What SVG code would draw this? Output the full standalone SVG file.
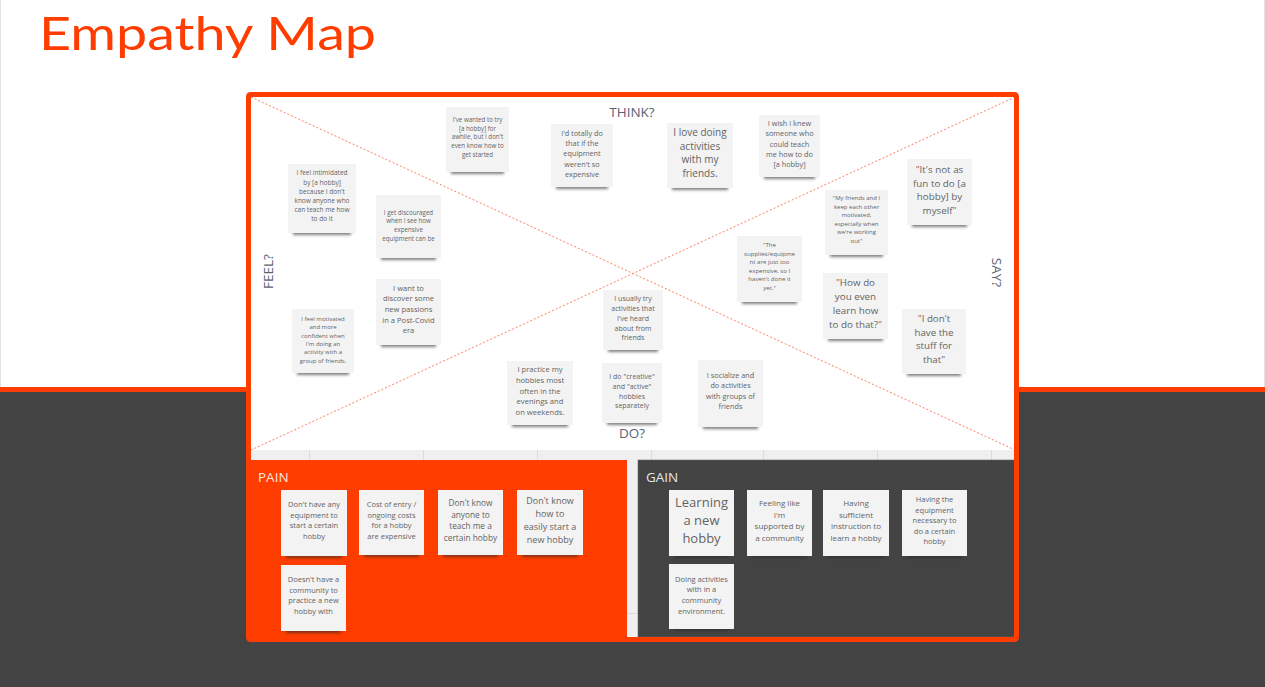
<svg xmlns="http://www.w3.org/2000/svg" width="1265" height="687" viewBox="0 0 1265 687">
<defs>
<filter id="blur" x="-30%" y="-200%" width="160%" height="500%"><feGaussianBlur stdDeviation="1.4"/></filter>
<clipPath id="inner"><rect x="251" y="97" width="764" height="353"/></clipPath>
<style>
.note{fill:#F3F3F4}
.sh{fill:#2a2a2a;opacity:.6;filter:url(#blur)}
.t{font-family:"Open Sans","Liberation Sans",sans-serif;fill:#636363;text-anchor:middle}
.lbl{font-family:"Open Sans","Liberation Sans",sans-serif;fill:#5A6276;font-size:13.5px;text-anchor:middle}
.sec{font-family:"Open Sans","Liberation Sans",sans-serif;font-size:13.5px}
.diag{stroke:#FF7E62;stroke-width:1;stroke-dasharray:2 2;fill:none}
</style>
</defs>

<!-- background -->
<rect x="0" y="0" width="1265" height="387" fill="#FFFFFF"/>
<line x1="0.5" y1="0" x2="0.5" y2="387" stroke="#E2E2E2"/>
<line x1="1264.5" y1="0" x2="1264.5" y2="387" stroke="#E2E2E2"/>
<rect x="0" y="387" width="1265" height="5" fill="#FF3D00"/>
<rect x="0" y="392" width="1265" height="295" fill="#434343"/>

<text x="39" y="50" font-family="Lato,'Open Sans',sans-serif" font-weight="400" font-size="46" fill="#FF3D00" textLength="337" lengthAdjust="spacingAndGlyphs">Empathy Map</text>

<!-- frame -->
<g id="frame">
<rect x="251" y="97" width="764" height="353" fill="#FFFFFF"/>
<rect x="251" y="450" width="764" height="10" fill="#EFEFEF"/>
<g stroke="#DCDCDC" stroke-width="1">
<line x1="309.5" y1="450" x2="309.5" y2="460"/>
<line x1="423.5" y1="450" x2="423.5" y2="460"/>
<line x1="537.5" y1="450" x2="537.5" y2="460"/>
<line x1="651.5" y1="450" x2="651.5" y2="460"/>
<line x1="763.5" y1="450" x2="763.5" y2="460"/>
<line x1="877.5" y1="450" x2="877.5" y2="460"/>
<line x1="991.5" y1="450" x2="991.5" y2="460"/>
</g>
<rect x="627" y="460" width="11" height="177" fill="#EFEFEF"/>
<line x1="627" y1="613.5" x2="638" y2="613.5" stroke="#DCDCDC"/>
</g>

<g id="connectors" clip-path="url(#inner)">
<line class="diag" x1="251" y1="97" x2="1015" y2="450"/>
<line class="diag" x1="1015" y1="97" x2="251" y2="450"/>
</g>

<g id="labels">
<text class="lbl" x="632" y="116.5" font-size="14">THINK?</text>
<text class="lbl" x="632" y="438" font-size="14">DO?</text>
<text class="lbl" transform="translate(273.3,271.5) rotate(-90)" x="0" y="0">FEEL?</text>
<text class="lbl" transform="translate(991.7,272.5) rotate(90)" x="0" y="0">SAY?</text>
</g>

<g id="pain">
<rect x="251" y="460" width="376" height="177" fill="#FF3D00"/>
<text class="sec" x="258" y="482.3" fill="#FDE6DC">PAIN</text>
</g>
<g id="gain">
<rect x="638" y="460" width="377" height="177" fill="#434343" stroke="#6A6A6A" stroke-width="0.6"/>
<text class="sec" x="646" y="482.3" fill="#E6E6E6">GAIN</text>
</g>

<!-- frame border -->
<rect x="248.5" y="94.5" width="768" height="545" rx="2" fill="none" stroke="#FF3D00" stroke-width="5"/>

<!-- THINK / FEEL / SAY / DO notes -->
<g id="n-tried">
<rect class="sh" x="451" y="169" width="53" height="5"/>
<rect class="note" x="446" y="107" width="63" height="65"/>
<text class="t" font-size="6.2"><tspan x="477.5" y="121.9">I've wanted to try</tspan><tspan x="477.5" y="130.7">[a hobby] for</tspan><tspan x="477.5" y="139.4">awhile, but I don't</tspan><tspan x="477.5" y="148.2">even know how to</tspan><tspan x="477.5" y="156.9">get started</tspan></text>
</g>
<g id="n-totally">
<rect class="sh" x="556" y="184" width="52" height="5"/>
<rect class="note" x="551" y="124" width="62" height="63"/>
<text class="t" font-size="7.3"><tspan x="582" y="135.5">I'd totally do</tspan><tspan x="582" y="145.9">that if the</tspan><tspan x="582" y="156.2">equipment</tspan><tspan x="582" y="166.6">weren't so</tspan><tspan x="582" y="176.9">expensive</tspan></text>
</g>
<g id="n-love">
<rect class="sh" x="672" y="185" width="56" height="5"/>
<rect class="note" x="667" y="123" width="66" height="65"/>
<text class="t" font-size="10"><tspan x="700" y="136">I love doing</tspan><tspan x="700" y="149.7">activities</tspan><tspan x="700" y="163.4">with my</tspan><tspan x="700" y="177.1">friends.</tspan></text>
</g>
<g id="n-wish">
<rect class="sh" x="764" y="174" width="51" height="5"/>
<rect class="note" x="759" y="115" width="61" height="62"/>
<text class="t" font-size="7.3"><tspan x="789.5" y="126.2">I wish I knew</tspan><tspan x="789.5" y="136.4">someone who</tspan><tspan x="789.5" y="146.7">could teach</tspan><tspan x="789.5" y="156.9">me how to do</tspan><tspan x="789.5" y="167.2">[a hobby]</tspan></text>
</g>
<g id="n-notfun">
<rect class="sh" x="912" y="222" width="55" height="5"/>
<rect class="note" x="907" y="159" width="65" height="66"/>
<text class="t" font-size="9.8"><tspan x="939.5" y="173">"It's not as</tspan><tspan x="939.5" y="186.6">fun to do [a</tspan><tspan x="939.5" y="200.2">hobby] by</tspan><tspan x="939.5" y="213.8">myself"</tspan></text>
</g>
<g id="n-intimidated">
<rect class="sh" x="293" y="230" width="58" height="5"/>
<rect class="note" x="288" y="164" width="68" height="69"/>
<text class="t" font-size="6.5"><tspan x="322" y="175.3">I feel intimidated</tspan><tspan x="322" y="184.5">by [a hobby]</tspan><tspan x="322" y="193.7">because I don't</tspan><tspan x="322" y="202.9">know anyone who</tspan><tspan x="322" y="212.1">can teach me how</tspan><tspan x="322" y="221.3">to do it</tspan></text>
</g>
<g id="n-discouraged">
<rect class="sh" x="381" y="255" width="55" height="5"/>
<rect class="note" x="376" y="195" width="65" height="63"/>
<text class="t" font-size="6.2"><tspan x="408.5" y="214.6">I get discouraged</tspan><tspan x="408.5" y="223.3">when I see how</tspan><tspan x="408.5" y="232.1">expensive</tspan><tspan x="408.5" y="240.8">equipment can be</tspan></text>
</g>
<g id="n-myfriends">
<rect class="sh" x="830" y="252" width="53" height="5"/>
<rect class="note" x="825" y="190" width="63" height="65"/>
<text class="t" font-size="6"><tspan x="856.5" y="200">"My friends and I</tspan><tspan x="856.5" y="208.6">keep each other</tspan><tspan x="856.5" y="217.2">motivated,</tspan><tspan x="856.5" y="225.8">especially when</tspan><tspan x="856.5" y="234.4">we're working</tspan><tspan x="856.5" y="243">out"</tspan></text>
</g>
<g id="n-supplies">
<rect class="sh" x="742" y="299" width="55" height="5"/>
<rect class="note" x="737" y="236" width="65" height="66"/>
<text class="t" font-size="6.1"><tspan x="769.5" y="246.8">"The</tspan><tspan x="769.5" y="255.5">supplies/equipme</tspan><tspan x="769.5" y="264.1">nt are just too</tspan><tspan x="769.5" y="272.8">expensive, so I</tspan><tspan x="769.5" y="281.4">haven't done it</tspan><tspan x="769.5" y="290.1">yet."</tspan></text>
</g>
<g id="n-howdo">
<rect class="sh" x="828" y="336" width="55" height="5"/>
<rect class="note" x="823" y="273" width="65" height="66"/>
<text class="t" font-size="9.8"><tspan x="855.5" y="286.3">"How do</tspan><tspan x="855.5" y="300.1">you even</tspan><tspan x="855.5" y="313.9">learn how</tspan><tspan x="855.5" y="327.7">to do that?"</tspan></text>
</g>
<g id="n-stuff">
<rect class="sh" x="907" y="371" width="54" height="5"/>
<rect class="note" x="902" y="309" width="64" height="65"/>
<text class="t" font-size="9.7"><tspan x="934" y="322.2">"I don't</tspan><tspan x="934" y="335.8">have the</tspan><tspan x="934" y="349.4">stuff for</tspan><tspan x="934" y="363">that"</tspan></text>
</g>
<g id="n-socialize">
<rect class="sh" x="703" y="424" width="55" height="5"/>
<rect class="note" x="698" y="360" width="65" height="67"/>
<text class="t" font-size="7.3"><tspan x="730.5" y="377.9">I socialize and</tspan><tspan x="730.5" y="388.2">do activities</tspan><tspan x="730.5" y="398.5">with groups of</tspan><tspan x="730.5" y="408.8">friends</tspan></text>
</g>
<g id="n-discover">
<rect class="sh" x="381" y="342" width="55" height="5"/>
<rect class="note" x="376" y="279" width="65" height="66"/>
<text class="t" font-size="7.6"><tspan x="408.5" y="290.6">I want to</tspan><tspan x="408.5" y="301.3">discover some</tspan><tspan x="408.5" y="312">new passions</tspan><tspan x="408.5" y="322.7">in a Post-Covid</tspan><tspan x="408.5" y="333.4">era</tspan></text>
</g>
<g id="n-motivated">
<rect class="sh" x="297" y="370" width="52" height="5"/>
<rect class="note" x="292" y="309" width="62" height="64"/>
<text class="t" font-size="6"><tspan x="323" y="320.8">I feel motivated</tspan><tspan x="323" y="329.2">and more</tspan><tspan x="323" y="337.6">confident when</tspan><tspan x="323" y="346">I'm doing an</tspan><tspan x="323" y="354.4">activity with a</tspan><tspan x="323" y="362.8">group of friends.</tspan></text>
</g>
<g id="n-practice">
<rect class="sh" x="512" y="422" width="56" height="5"/>
<rect class="note" x="507" y="361" width="66" height="64"/>
<text class="t" font-size="7.6"><tspan x="540" y="372.3">I practice my</tspan><tspan x="540" y="383">hobbies most</tspan><tspan x="540" y="393.7">often in the</tspan><tspan x="540" y="404.4">evenings and</tspan><tspan x="540" y="415.1">on weekends.</tspan></text>
</g>
<g id="n-usually">
<rect class="sh" x="608" y="347" width="50" height="5"/>
<rect class="note" x="603" y="290" width="60" height="60"/>
<text class="t" font-size="7"><tspan x="633" y="301.4">I usually try</tspan><tspan x="633" y="311.2">activities that</tspan><tspan x="633" y="320.9">I've heard</tspan><tspan x="633" y="330.7">about from</tspan><tspan x="633" y="340.4">friends</tspan></text>
</g>
<g id="n-creative">
<rect class="sh" x="607" y="420" width="50" height="5"/>
<rect class="note" x="602" y="363" width="60" height="60"/>
<text class="t" font-size="7"><tspan x="632" y="379.4">I do "creative"</tspan><tspan x="632" y="389">and "active"</tspan><tspan x="632" y="398.6">hobbies</tspan><tspan x="632" y="408.2">separately</tspan></text>
</g>

<!-- PAIN notes -->
<g id="p-equipment">
<rect class="sh" x="286" y="553" width="56" height="5"/>
<rect class="note" x="281" y="490" width="66" height="66"/>
<text class="t" font-size="7.5"><tspan x="314" y="507.2">Don't have any</tspan><tspan x="314" y="517.8">equipment to</tspan><tspan x="314" y="528.4">start a certain</tspan><tspan x="314" y="539">hobby</tspan></text>
</g>
<g id="p-cost">
<rect class="sh" x="364" y="552" width="55" height="5"/>
<rect class="note" x="359" y="490" width="65" height="65"/>
<text class="t" font-size="7.5"><tspan x="391.5" y="507.2">Cost of entry /</tspan><tspan x="391.5" y="517.8">ongoing costs</tspan><tspan x="391.5" y="528.4">for a hobby</tspan><tspan x="391.5" y="539">are expensive</tspan></text>
</g>
<g id="p-anyone">
<rect class="sh" x="443" y="552" width="55" height="5"/>
<rect class="note" x="438" y="490" width="65" height="65"/>
<text class="t" font-size="8.3"><tspan x="470.5" y="505.8">Don't know</tspan><tspan x="470.5" y="517.5">anyone to</tspan><tspan x="470.5" y="529.2">teach me a</tspan><tspan x="470.5" y="540.9">certain hobby</tspan></text>
</g>
<g id="p-start">
<rect class="sh" x="522" y="552" width="56" height="5"/>
<rect class="note" x="517" y="490" width="66" height="65"/>
<text class="t" font-size="9"><tspan x="550" y="504.4">Don't know</tspan><tspan x="550" y="517.2">how to</tspan><tspan x="550" y="530">easily start a</tspan><tspan x="550" y="542.8">new hobby</tspan></text>
</g>
<g id="p-community">
<rect class="sh" x="286" y="628" width="55" height="5"/>
<rect class="note" x="281" y="565" width="65" height="66"/>
<text class="t" font-size="7.5"><tspan x="313.5" y="582.2">Doesn't have a</tspan><tspan x="313.5" y="592.8">community to</tspan><tspan x="313.5" y="603.4">practice a new</tspan><tspan x="313.5" y="614">hobby with</tspan></text>
</g>

<!-- GAIN notes -->
<g id="g-learning">
<rect class="sh" x="674" y="553" width="55" height="5"/>
<rect class="note" x="669" y="490" width="65" height="66"/>
<text class="t" font-size="13"><tspan x="701.5" y="507.2">Learning</tspan><tspan x="701.5" y="525.2">a new</tspan><tspan x="701.5" y="543.2">hobby</tspan></text>
</g>
<g id="g-supported">
<rect class="sh" x="752" y="553" width="55" height="5"/>
<rect class="note" x="747" y="490" width="65" height="66"/>
<text class="t" font-size="8"><tspan x="779.5" y="506.4">Feeling like</tspan><tspan x="779.5" y="517.8">I'm</tspan><tspan x="779.5" y="529.2">supported by</tspan><tspan x="779.5" y="540.6">a community</tspan></text>
</g>
<g id="g-instruction">
<rect class="sh" x="828" y="553" width="56" height="5"/>
<rect class="note" x="823" y="490" width="66" height="66"/>
<text class="t" font-size="8"><tspan x="856" y="506.4">Having</tspan><tspan x="856" y="517.8">sufficient</tspan><tspan x="856" y="529.2">instruction to</tspan><tspan x="856" y="540.6">learn a hobby</tspan></text>
</g>
<g id="g-equipment">
<rect class="sh" x="907" y="553" width="55" height="5"/>
<rect class="note" x="902" y="490" width="65" height="66"/>
<text class="t" font-size="7.5"><tspan x="934.5" y="502.2">Having the</tspan><tspan x="934.5" y="512.7">equipment</tspan><tspan x="934.5" y="523.2">necessary to</tspan><tspan x="934.5" y="533.7">do a certain</tspan><tspan x="934.5" y="544.2">hobby</tspan></text>
</g>
<g id="g-activities">
<rect class="sh" x="674" y="626" width="55" height="5"/>
<rect class="note" x="669" y="564" width="65" height="65"/>
<text class="t" font-size="7.5"><tspan x="701.5" y="581.5">Doing activities</tspan><tspan x="701.5" y="592.2">with in a</tspan><tspan x="701.5" y="602.9">community</tspan><tspan x="701.5" y="613.6">environment.</tspan></text>
</g>
</svg>
